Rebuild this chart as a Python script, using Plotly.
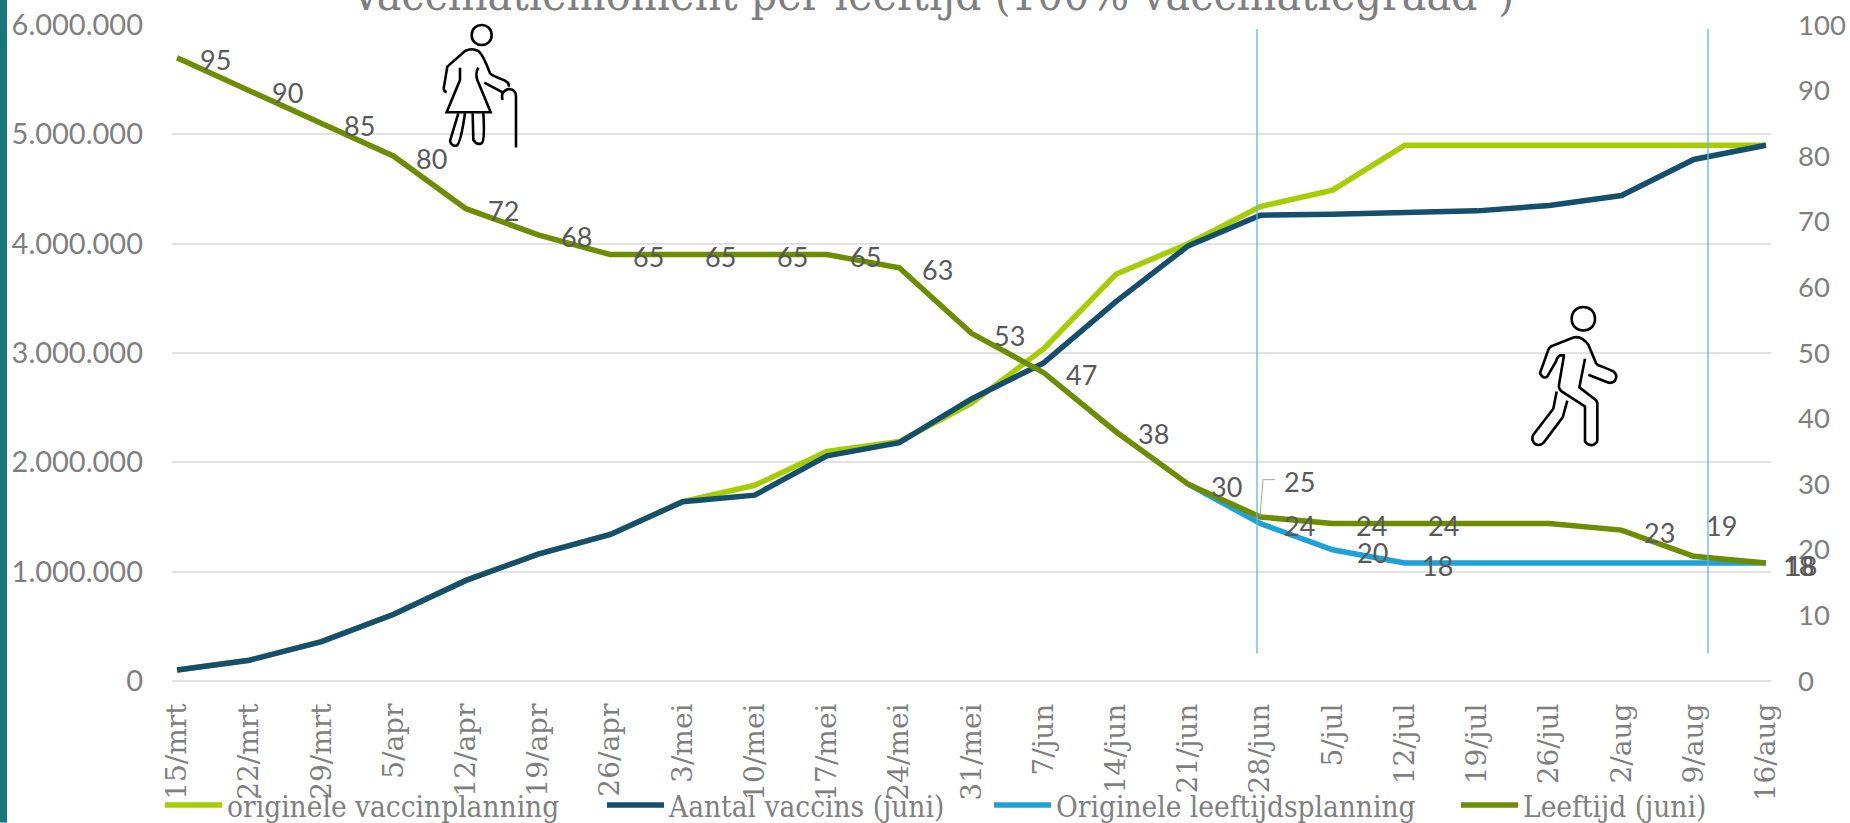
import plotly.graph_objects as go
import re

weken = ["15/mrt","22/mrt","29/mrt","5/apr","12/apr","19/apr","26/apr","3/mei","10/mei","17/mei","24/mei","31/mei",
         "7/jun","14/jun","21/jun","28/jun","5/jul","12/jul","19/jul","26/jul","2/aug","9/aug","16/aug"]
originele_vaccinplanning = [100000,190000,360000,610000,920000,1160000,1340000,1640000,1790000,2100000,2190000,2540000,
                            3040000,3720000,4000000,4340000,4490000,4900000,4900000,4900000,4900000,4900000,4900000]
aantal_vaccins = [100000,190000,360000,610000,920000,1160000,1340000,1640000,1700000,2060000,2180000,2580000,
                  2910000,3470000,3980000,4260000,4270000,4280000,4300000,4350000,4440000,4770000,4900000]
originele_leeftijd = [None]*14 + [30,24,20,18,18,18,18,18,18]
leeftijd = [95,90,85,80,72,68,65,65,65,65,63,53,47,38,30,25,24,24,24,24,23,19,18]
leeftijd_labels = ["95","90","85","80","72","68","65","65","65","65","63","53","47","38","30","25","24","24","24","","23","19","18"]
blauw_labels = {"5/jul":"20","12/jul":"18","16/aug":"18"}

GROEN, NAVY, BLAUW, OLIJF = "#a5cd00", "#14506e", "#20a0d8", "#6e8c00"
W, H, L, R, T, B = 1850, 823, 172, 1771, 25, 681.5
px = lambda x: (x - L) / (R - L)
py = lambda y: (B - y) / (B - T)

def path(d, ox, oy, s=1/3):
    """Schets in crop-pixels naar paper-coordinaten."""
    toks = re.findall(r"[MLQCZ]|-?\d+\.?\d*", d)
    out, isx = [], True
    for t in toks:
        if t.isalpha():
            out.append(t); isx = True
        else:
            v = float(t)
            out.append(f"{px(ox + v*s):.5f}" if isx else f"{py(oy + v*s):.5f}")
            isx = not isx
    return " ".join(out)

fig = go.Figure()
common = dict(x=weken, mode="lines", line_shape="linear")
fig.add_trace(go.Scatter(y=originele_vaccinplanning, name="originele vaccinplanning", legend="legend", line=dict(color=GROEN, width=5.5), **common))
fig.add_trace(go.Scatter(y=aantal_vaccins, name="Aantal vaccins (juni)", legend="legend2", line=dict(color=NAVY, width=5.5), **common))
fig.add_trace(go.Scatter(y=originele_leeftijd, name="Originele leeftijdsplanning", legend="legend3", yaxis="y2", line=dict(color=BLAUW, width=5.5), **common))
fig.add_trace(go.Scatter(y=leeftijd, name="Leeftijd (juni)", legend="legend4", yaxis="y2", line=dict(color=OLIJF, width=5.5), **common))

LBL = dict(family="Lato", size=27, color="#595959")
offs = {"5/jul":(-33,2),"12/jul":(-33,2),"19/jul":(-34,2),"28/jun":(39,-36),"9/aug":(28,-31),"16/aug":(36,3)}
ann = []
for w, v, t in zip(weken, leeftijd, leeftijd_labels):
    if t:
        dx, dy = offs.get(w, (38, 2))
        ann.append(dict(x=w, y=v, yref="y2", text=t, showarrow=False, xshift=dx, yshift=-dy, font=LBL))
for w, t in blauw_labels.items():
    v = originele_leeftijd[weken.index(w)]
    ann.append(dict(x=w, y=v, yref="y2", text=t, showarrow=False, xshift=40 if t == "20" else 33, yshift=-3, font=LBL))
ann.append(dict(xref="paper", yref="paper", x=px(932), y=py(23), yanchor="bottom", showarrow=False,
                text="Vaccinatiemoment per leeftijd (100% vaccinatiegraad*)",
                font=dict(family="DejaVu Serif Condensed", size=46, color="#7f7f7f")))

ICON = dict(type="path", xref="paper", yref="paper", line=dict(color="#000000", width=2.6))
shapes = [
    dict(type="rect", xref="paper", yref="paper", x0=px(0), x1=px(7), y0=py(0), y1=py(H), fillcolor="#17777a", line_width=0),
    dict(type="line", xref="paper", yref="paper", x0=px(1257), x1=px(1257), y0=py(29), y1=py(654), line=dict(color="#5bb8dc", width=1.3)),
    dict(type="line", xref="paper", yref="paper", x0=px(1708), x1=px(1708), y0=py(29), y1=py(654), line=dict(color="#5bb8dc", width=1.3)),
    dict(type="path", xref="paper", yref="paper", line=dict(color="#a6a6a6", width=1),
         path=path("M 1260 517 L 1263 480 L 1275 480", 0, 0, 1)),
]
ouder = ["M 155 60 C 155 20 215 20 215 60 C 215 100 155 100 155 60",
         "M 80 232 C 72 230 70 225 72 215 L 82 155 L 135 108 Q 155 98 175 108 Q 190 120 210 175 Q 215 182 255 197 Q 270 205 265 215",
         "M 120 158 L 120 195 L 80 292 L 212 292 L 172 195 Q 165 175 175 158",
         "M 193 203 L 248 232",
         "M 248 255 Q 240 230 265 222 Q 288 222 288 245 L 288 398",
         "M 115 295 L 90 378 Q 95 395 110 392 Q 122 385 135 295",
         "M 158 295 L 160 375 Q 170 392 185 385 Q 195 378 190 295"]
loper = ["M 185 72 C 185 25 255 25 255 72 C 255 119 185 119 185 72",
         "M 165 182 L 150 182 Q 142 185 138 200 L 112 245 Q 100 255 90 235 L 115 165 Q 118 155 130 152 L 190 128 Q 215 122 235 150 L 258 205 Q 262 212 275 215 L 310 230 Q 325 240 315 258 Q 305 268 290 262 L 235 240",
         "M 162 182 L 147 270 Q 145 282 155 290 L 225 335 L 225 440 Q 235 455 250 450 Q 262 445 262 435 L 262 325 Q 260 315 250 310 L 208 278 L 225 192",
         "M 140 290 L 130 342 L 70 420 Q 62 435 75 448 Q 88 455 100 445 L 158 368 L 172 318"]
shapes += [dict(path=path(d, 420, 15), **ICON) for d in ouder]
shapes += [dict(path=path(d, 1510, 295), **ICON) for d in loper]

def lg(start):
    return dict(orientation="h", x=px(start), xanchor="left", y=py(806), yanchor="middle", itemwidth=57,
                font=dict(family="DejaVu Serif Condensed", size=29.5, color="#7f7f7f"), bgcolor="rgba(0,0,0,0)")

fig.update_layout(
    width=W, height=H, paper_bgcolor="white", plot_bgcolor="white", separators=",.",
    margin=dict(l=L, r=W-R, t=T, b=H-B, autoexpand=False),
    showlegend=True,
    legend=lg(160), legend2=lg(602), legend3=lg(989), legend4=lg(1456),
    xaxis=dict(type="category", categoryorder="array", categoryarray=weken, range=[-0.07, 22.07], tickangle=-90,
               showgrid=False, showline=False, zeroline=False, ticks="", ticklabelstandoff=16,
               tickfont=dict(family="DejaVu Serif", size=28, color="#7f7f7f")),
    yaxis=dict(range=[0, 6000000], dtick=1000000, tickformat=",d", gridcolor="#e2e2e2", gridwidth=2, zeroline=True,
               zerolinecolor="#e2e2e2", zerolinewidth=2, showline=False, ticks="", ticklabelstandoff=28,
               tickfont=dict(family="Lato", size=29, color="#7f7f7f")),
    yaxis2=dict(range=[0, 100], dtick=10, overlaying="y", side="right", showgrid=False, zeroline=False, showline=False,
                ticks="", ticklabelstandoff=26, tickfont=dict(family="Lato", size=27.5, color="#7f7f7f")),
    annotations=ann, shapes=shapes,
)
fig.write_html("out.html", config=dict(displayModeBar=False),
               post_script="document.body.style.margin='0';document.body.style.overflow='hidden';")
